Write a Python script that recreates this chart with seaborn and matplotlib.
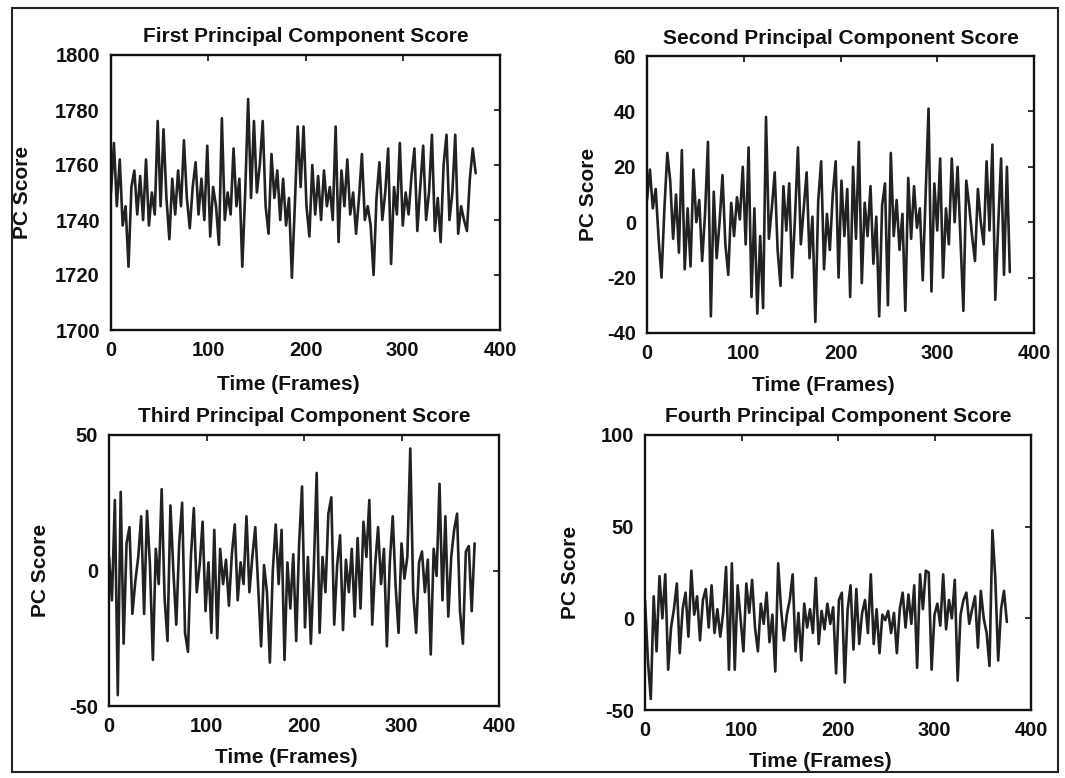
import numpy as np
import pandas as pd
import matplotlib
matplotlib.use("Agg")
import matplotlib.pyplot as plt
import seaborn as sns
from matplotlib.patches import Rectangle

# ---------------- data (one value every 3 frames) ----------------
FRAME_STEP = 3

pc1 = [1750, 1768, 1745, 1762, 1738, 1745, 1723, 1752, 1758, 1742, 1756, 1740, 1762, 1738, 1750, 1742,
       1776, 1745, 1773, 1748, 1733, 1755, 1742, 1758, 1745, 1769, 1748, 1737, 1752, 1761, 1742, 1755,
       1740, 1767, 1734, 1752, 1745, 1731, 1777, 1740, 1750, 1742, 1766, 1745, 1755, 1723, 1750, 1784,
       1748, 1776, 1750, 1760, 1776, 1745, 1735, 1764, 1748, 1758, 1740, 1755, 1738, 1748, 1719, 1745,
       1774, 1752, 1774, 1745, 1734, 1760, 1742, 1756, 1740, 1758, 1745, 1752, 1740, 1774, 1732, 1758,
       1745, 1762, 1742, 1750, 1735, 1748, 1764, 1740, 1745, 1738, 1720, 1748, 1761, 1740, 1750, 1766,
       1724, 1752, 1742, 1768, 1738, 1750, 1742, 1756, 1766, 1736, 1752, 1767, 1740, 1750, 1771, 1736,
       1748, 1732, 1760, 1771, 1740, 1750, 1771, 1735, 1745, 1740, 1736, 1755, 1766, 1757]

pc2 = [8, 19, 5, 12, -6, -20, 5, 25, 15, -6, 10, -11, 26, -17, 5, -16,
       19, 0, 8, -14, 3, 29, -34, 11, -13, 0, 17, -8, -19, 7, -5, 9,
       1, 20, -8, 27, -27, 5, -33, -5, -31, 38, -6, 5, 18, -10, -23, 13,
       -3, 14, -20, 2, 27, -8, 5, 18, -13, 2, -36, 8, 22, -17, 3, -10,
       10, 22, -20, 15, -5, 12, -27, 20, -6, 29, -22, 7, -5, 13, -15, 2,
       -34, 6, 14, -30, 25, -5, 8, -10, 3, -32, 16, -6, 13, -2, 5, -21,
       10, 41, -25, 14, -3, 23, -20, 5, -8, 23, 0, 20, -6, -32, 15, 6,
       -5, -14, 12, 0, -8, 22, -3, 28, -28, -1, 23, -19, 20, -18]

pc3 = [5, -11, 26, -46, 29, -27, 10, 16, -16, -4, 5, 20, -16, 22, 2, -33,
       8, -5, 30, -10, -26, 24, 0, -20, 10, 25, -23, -30, 5, 23, -8, 2,
       18, -15, 3, -23, 15, -25, 8, -5, 4, -13, 6, 17, -11, 3, -5, 20,
       -8, 5, 16, -6, -28, 2, -8, -34, 0, 17, -5, 15, -33, 3, -14, 6,
       -26, 10, 31, -21, 5, -27, 0, 36, -23, 5, -8, 21, 27, -20, 2, 13,
       -22, 4, -8, 8, -17, 12, -14, 18, 5, 26, -20, 2, 16, -5, 8, -28,
       3, 20, -6, -23, 10, -3, 5, 45, -8, -23, 3, 7, -8, 4, -31, 8,
       -2, 32, -11, 20, -17, 5, 15, 21, -15, -27, 7, 9, -15, 10]

pc4 = [10, -23, -44, 12, -18, 23, 0, 24, -28, -5, 5, 19, -19, 5, 14, -10,
       26, 2, 12, -12, 10, 16, -5, 18, -8, 5, -10, 3, 28, -28, 30, -28,
       18, 0, -18, 19, 3, 21, -5, -18, 8, -3, 14, -13, 2, -29, 30, 5,
       -12, 2, 10, 24, -18, 3, -23, 8, -5, 5, -8, 22, -14, 4, -6, 8,
       -3, 6, -30, 10, 14, -35, 5, 18, -17, 16, -14, 3, 10, -8, 24, -14,
       5, -19, 2, -1, 4, -8, 3, -19, 5, 14, -5, 13, -3, 18, -27, 24,
       5, 26, 25, -28, 2, 8, -4, 24, -6, 10, 0, 21, -34, 2, 10, 14,
       -3, 5, 12, -16, 15, 0, -8, -26, 48, 22, -23, 5, 15, -2]

titles = ["First Principal Component Score", "Second Principal Component Score",
          "Third Principal Component Score", "Fourth Principal Component Score"]
x_ticks = [0, 100, 200, 300, 400]
y_ticks = [[1700, 1720, 1740, 1760, 1780, 1800],
           [-40, -20, 0, 20, 40, 60],
           [-50, 0, 50],
           [-50, 0, 50, 100]]
x_label = "Time (Frames)"
y_label = "PC Score"

# ---------------- style ----------------
sns.set_theme(style="white")
plt.rcParams["font.family"] = ["Liberation Sans", "DejaVu Sans"]
plt.rcParams["font.weight"] = "bold"
plt.rcParams["axes.unicode_minus"] = False

W, H = 1065, 778
fig = plt.figure(figsize=(W / 100, H / 100), dpi=100)
fig.patch.set_facecolor("white")

# axes rectangles in pixels: left, top, right, bottom
boxes = [(111, 55, 500, 330), (647, 56, 1034, 333), (109, 435, 499, 706), (645, 435, 1031, 710)]
ylab_x = [-0.203, -0.126, -0.151, -0.168]
xlab_y = [-0.164, -0.155, -0.155, -0.153]

series = [pc1, pc2, pc3, pc4]
line_color = "#222222"

for i, (vals, box) in enumerate(zip(series, boxes)):
    l, t, r, b = box
    ax = fig.add_axes([l / W, 1 - b / H, (r - l) / W, (b - t) / H])
    df = pd.DataFrame({"frame": np.arange(len(vals)) * FRAME_STEP, "score": vals})
    sns.lineplot(data=df, x="frame", y="score", ax=ax, color=line_color, linewidth=1.9)
    ax.set_xlim(0, 400)
    ax.set_ylim(y_ticks[i][0], y_ticks[i][-1])
    ax.set_xticks(x_ticks)
    ax.set_yticks(y_ticks[i])
    ax.tick_params(direction="in", top=True, right=True, length=4, width=1.2,
                   labelsize=14.5, pad=8, colors="#111111")
    for lab in ax.get_xticklabels() + ax.get_yticklabels():
        lab.set_fontweight("bold")
    for sp in ax.spines.values():
        sp.set_linewidth(1.7)
        sp.set_color("#111111")
    ax.set_title(titles[i], fontsize=15, fontweight="bold", pad=9, color="#111111")
    ax.set_xlabel(x_label, fontsize=15, fontweight="bold", color="#111111")
    ax.set_ylabel(y_label, fontsize=15, fontweight="bold", color="#111111")
    ax.xaxis.set_label_coords(0.455, xlab_y[i])
    ax.yaxis.set_label_coords(ylab_x[i], 0.5)
    ax.grid(False)

# outer frame of the figure
fig.patches.append(Rectangle((12 / W, 1 - 772 / H), (1058 - 12) / W, (772 - 8) / H,
                             transform=fig.transFigure, fill=False, edgecolor="#222222",
                             linewidth=1.5))

fig.savefig("out.png", dpi=100)
